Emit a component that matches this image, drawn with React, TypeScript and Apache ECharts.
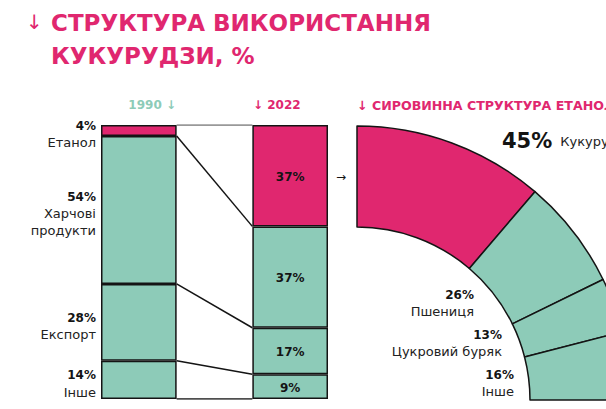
import React, { useEffect, useRef } from "react";
import * as echarts from "echarts";

const PINK = "#E0276F";
const TEAL = "#8DCBB8";
const INK = "#141414";
const FONT = "DejaVu Sans";

const titleLines = ["СТРУКТУРА ВИКОРИСТАННЯ", "КУКУРУДЗИ, %"];
const years = ["1990", "2022"];
const useCategories = ["Етанол", "Харчові\nпродукти", "Експорт", "Інше"];
const share1990 = [4, 54, 28, 14];
const share2022 = [37, 37, 17, 9];
const feedstockTitle = "СИРОВИННА СТРУКТУРА ЕТАНОЛУ";
const feedstock = ["Кукурудза", "Пшениця", "Цукровий буряк", "Інше"];
const feedstockShare = [45, 26, 13, 16];

const pieLabelPos = [
  { x: 502, y: 141, align: "left" },
  { x: 474, y: 303, align: "right" },
  { x: 502, y: 343, align: "right" },
  { x: 514, y: 383, align: "right" },
];

const cumulative = (arr: number[]) =>
  arr.reduce((acc: number[], v) => {
    acc.push(acc[acc.length - 1] + v);
    return acc;
  }, [0]);

export default function App() {
  const ref = useRef<HTMLDivElement>(null);
  useEffect(() => {
    const chart = echarts.init(ref.current!, null, { renderer: "svg" });
    const c1 = cumulative(share1990);
    const c2 = cumulative(share2022);

    const richLeft = {
      b: { fontFamily: FONT, fontWeight: "bold", fontSize: 12, color: INK, lineHeight: 17, align: "right" },
      n: { fontFamily: FONT, fontSize: 13, color: "#222", lineHeight: 17, align: "right" },
    };

    const barSeries = useCategories.map((name, i) => ({
      type: "bar",
      name,
      stack: "use",
      xAxisIndex: 0,
      yAxisIndex: 0,
      barWidth: "100%",
      itemStyle: { color: i === 0 ? PINK : TEAL, borderColor: INK, borderWidth: 1.5 },
      data: [
        {
          value: share1990[i],
          label: {
            show: true,
            position: "left",
            distance: 5,
            offset: [0, 4],
            align: "right",
            formatter: `{b|${share1990[i]}%}\n{n|${name}}`,
            rich: richLeft,
          },
        },
        "-",
        {
          value: share2022[i],
          label: {
            show: true,
            position: "inside",
            offset: [0, 1],
            formatter: `${share2022[i]}%`,
            fontFamily: FONT,
            fontWeight: "bold",
            fontSize: 12,
            color: INK,
          },
        },
      ],
    }));

    const linkSeries = c1.map((v, i) => ({
      type: "line",
      xAxisIndex: 1,
      yAxisIndex: 0,
      data: [
        [1, v],
        [2, c2[i]],
      ],
      symbol: "none",
      silent: true,
      z: 4,
      lineStyle: { color: i === 0 ? "#777" : INK, width: 1.5 },
    }));

    const richPie = {
      p: { fontFamily: FONT, fontWeight: "bold", fontSize: 21, color: INK },
      m: { fontFamily: FONT, fontSize: 13, color: "#222", padding: [0, 0, 0, 8] },
      b: { fontFamily: FONT, fontWeight: "bold", fontSize: 12, color: INK, lineHeight: 17, align: "right" },
      n: { fontFamily: FONT, fontSize: 13, color: "#222", lineHeight: 17, align: "right" },
    };

    chart.setOption({
      animation: false,
      grid: { left: 101, top: 125, width: 227, height: 274 },
      xAxis: [
        { type: "category", data: [years[0], "", years[1]], show: false },
        { type: "value", min: 0, max: 3, show: false },
      ],
      yAxis: [{ type: "value", inverse: true, min: 0, max: 100, show: false }],
      series: [
        ...barSeries,
        ...linkSeries,
        {
          type: "pie",
          center: [357, 400],
          radius: [173, 274],
          startAngle: 90,
          endAngle: 0,
          clockwise: true,
          avoidLabelOverlap: false,
          silent: true,
          itemStyle: { borderColor: INK, borderWidth: 1.5 },
          labelLine: { show: false },
          label: { show: true, position: "inside", rich: richPie },
          labelLayout: (params: any) => {
            const p = pieLabelPos[params.dataIndex];
            return { x: p.x, y: p.y, align: p.align, verticalAlign: "middle" };
          },
          data: feedstock.map((name, i) => ({
            name,
            value: feedstockShare[i],
            itemStyle: { color: i === 0 ? PINK : TEAL },
            label: {
              formatter:
                i === 0
                  ? `{p|${feedstockShare[i]}%}{m|${name}}`
                  : `{b|${feedstockShare[i]}%}\n{n|${name}}`,
            },
          })),
        },
      ],
      graphic: [
        {
          type: "text",
          left: 26,
          top: 12,
          style: { text: "↓", fontFamily: FONT, fontSize: 20, fill: PINK },
        },
        {
          type: "text",
          left: 51,
          top: 6,
          style: {
            text: titleLines.join("\n"),
            fontFamily: FONT,
            fontWeight: "bold",
            fontSize: 23,
            lineHeight: 33,
            fill: PINK,
          },
        },
        {
          type: "text",
          x: 176,
          y: 105,
          style: {
            text: `${years[0]} ↓`,
            fontFamily: FONT,
            fontWeight: "bold",
            fontSize: 12,
            fill: TEAL,
            align: "right",
            verticalAlign: "middle",
          },
        },
        {
          type: "text",
          x: 253,
          y: 105,
          style: {
            text: `↓ ${years[1]}`,
            fontFamily: FONT,
            fontWeight: "bold",
            fontSize: 12,
            fill: PINK,
            align: "left",
            verticalAlign: "middle",
          },
        },
        {
          type: "text",
          x: 357,
          y: 105,
          style: {
            text: `↓ ${feedstockTitle}`,
            fontFamily: FONT,
            fontWeight: "bold",
            fontSize: 12.6,
            fill: PINK,
            align: "left",
            verticalAlign: "middle",
          },
        },
        {
          type: "text",
          x: 341,
          y: 177,
          style: {
            text: "→",
            fontFamily: FONT,
            fontSize: 12,
            fill: INK,
            align: "center",
            verticalAlign: "middle",
          },
        },
      ],
    });
    return () => chart.dispose();
  }, []);
  return (
    <div
      ref={ref}
      style={{ position: "fixed", left: 0, top: 0, width: 606, height: 409, background: "#fff" }}
    />
  );
}
